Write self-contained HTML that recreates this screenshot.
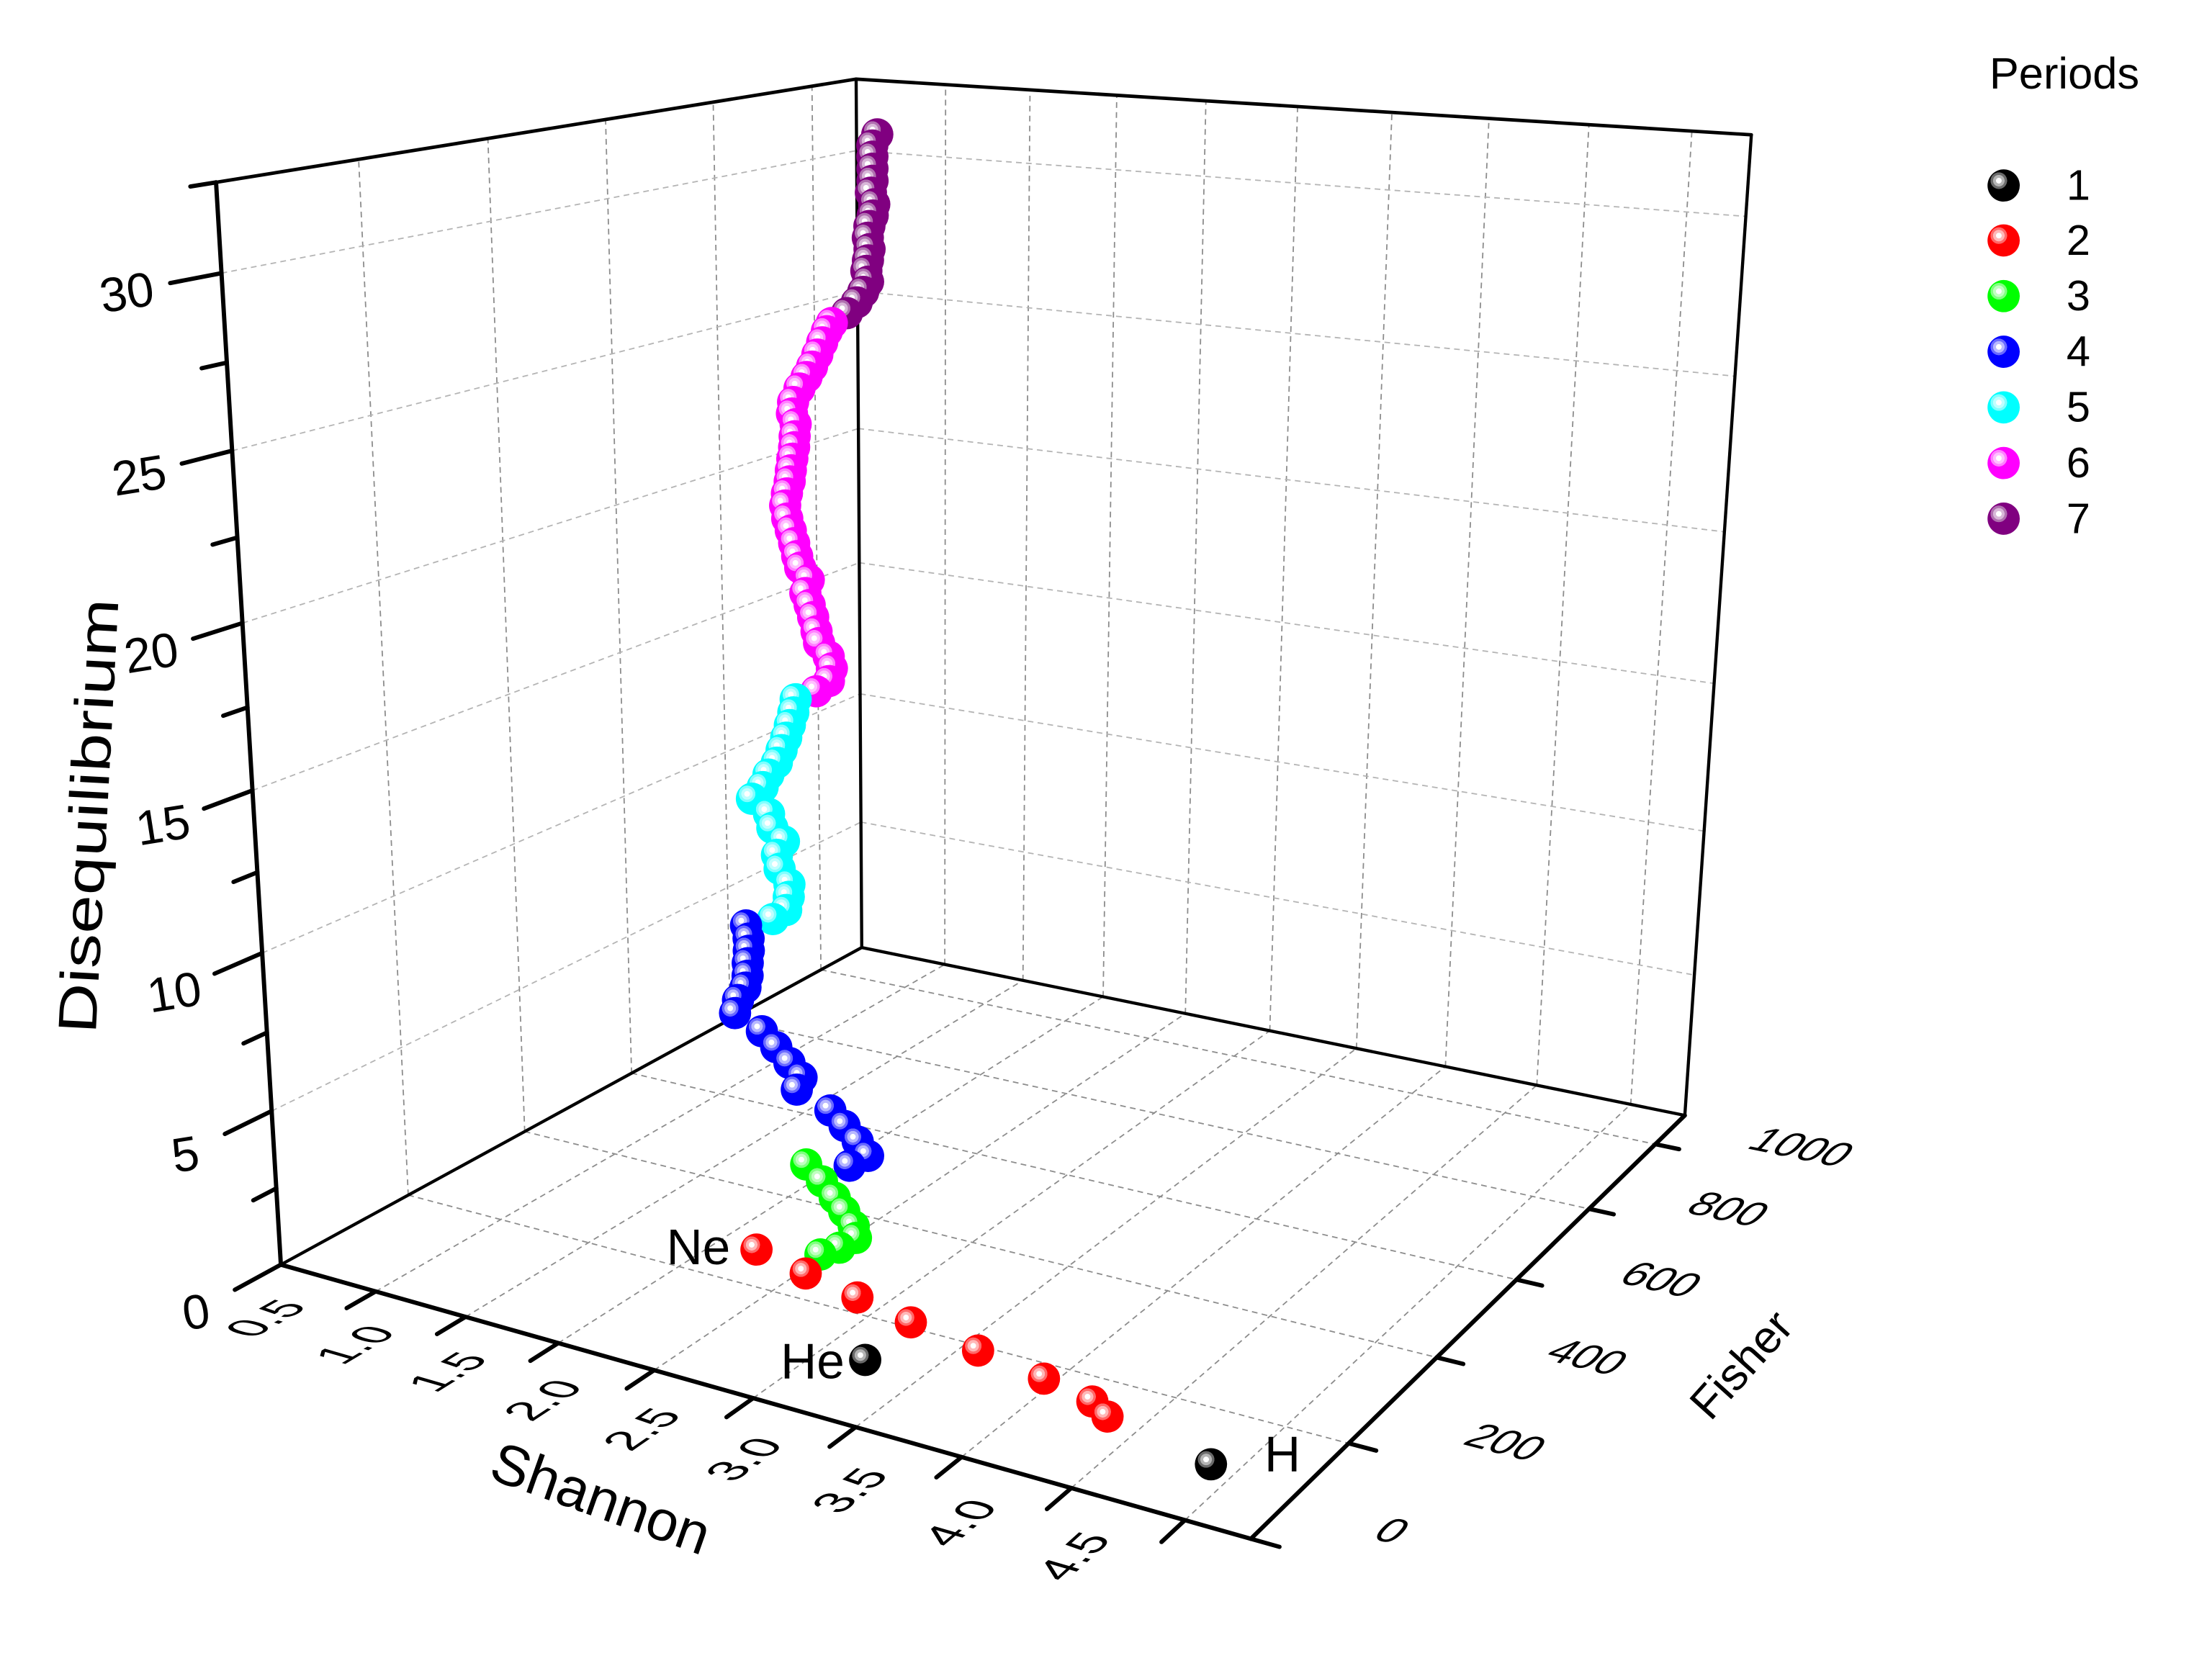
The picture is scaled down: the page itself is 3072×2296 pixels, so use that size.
<!DOCTYPE html>
<html>
<head>
<meta charset="utf-8">
<title>Periods 3D scatter</title>
<style>
  html,body{margin:0;padding:0;background:#fff;}
  svg{display:block;font-family:"Liberation Sans",Arial,sans-serif;}
</style>
</head>
<body>
<svg id="chart" xmlns="http://www.w3.org/2000/svg" width="3072" height="2296" viewBox="0 0 1550 1158.45">
  <defs>
    <radialGradient id="g1" cx="0.35" cy="0.35" r="0.65" fx="0.35" fy="0.35">
      <stop offset="0" stop-color="#ffffff"/><stop offset="0.13" stop-color="#ffffff"/>
      <stop offset="0.14" stop-color="#b4b4b4"/><stop offset="0.27" stop-color="#b4b4b4"/>
      <stop offset="0.28" stop-color="#6a6a6a"/><stop offset="0.39" stop-color="#6a6a6a"/>
      <stop offset="0.40" stop-color="#000000"/><stop offset="1" stop-color="#000000"/>
    </radialGradient>
    <radialGradient id="g2" cx="0.35" cy="0.35" r="0.65" fx="0.35" fy="0.35">
      <stop offset="0" stop-color="#ffffff"/><stop offset="0.13" stop-color="#ffffff"/>
      <stop offset="0.14" stop-color="#ffb8b8"/><stop offset="0.27" stop-color="#ffb8b8"/>
      <stop offset="0.28" stop-color="#ff6a6a"/><stop offset="0.39" stop-color="#ff6a6a"/>
      <stop offset="0.40" stop-color="#ff0000"/><stop offset="1" stop-color="#ff0000"/>
    </radialGradient>
    <radialGradient id="g3" cx="0.35" cy="0.35" r="0.65" fx="0.35" fy="0.35">
      <stop offset="0" stop-color="#ffffff"/><stop offset="0.13" stop-color="#ffffff"/>
      <stop offset="0.14" stop-color="#c0ffc0"/><stop offset="0.27" stop-color="#c0ffc0"/>
      <stop offset="0.28" stop-color="#80ff80"/><stop offset="0.39" stop-color="#80ff80"/>
      <stop offset="0.40" stop-color="#00ff00"/><stop offset="1" stop-color="#00ff00"/>
    </radialGradient>
    <radialGradient id="g4" cx="0.35" cy="0.35" r="0.65" fx="0.35" fy="0.35">
      <stop offset="0" stop-color="#ffffff"/><stop offset="0.13" stop-color="#ffffff"/>
      <stop offset="0.14" stop-color="#b8b8ff"/><stop offset="0.27" stop-color="#b8b8ff"/>
      <stop offset="0.28" stop-color="#6a6aff"/><stop offset="0.39" stop-color="#6a6aff"/>
      <stop offset="0.40" stop-color="#0000ff"/><stop offset="1" stop-color="#0000ff"/>
    </radialGradient>
    <radialGradient id="g5" cx="0.35" cy="0.35" r="0.65" fx="0.35" fy="0.35">
      <stop offset="0" stop-color="#ffffff"/><stop offset="0.13" stop-color="#ffffff"/>
      <stop offset="0.14" stop-color="#c0ffff"/><stop offset="0.27" stop-color="#c0ffff"/>
      <stop offset="0.28" stop-color="#80ffff"/><stop offset="0.39" stop-color="#80ffff"/>
      <stop offset="0.40" stop-color="#00ffff"/><stop offset="1" stop-color="#00ffff"/>
    </radialGradient>
    <radialGradient id="g6" cx="0.35" cy="0.35" r="0.65" fx="0.35" fy="0.35">
      <stop offset="0" stop-color="#ffffff"/><stop offset="0.13" stop-color="#ffffff"/>
      <stop offset="0.14" stop-color="#ffc0ff"/><stop offset="0.27" stop-color="#ffc0ff"/>
      <stop offset="0.28" stop-color="#ff80ff"/><stop offset="0.39" stop-color="#ff80ff"/>
      <stop offset="0.40" stop-color="#ff00ff"/><stop offset="1" stop-color="#ff00ff"/>
    </radialGradient>
    <radialGradient id="g7" cx="0.35" cy="0.35" r="0.65" fx="0.35" fy="0.35">
      <stop offset="0" stop-color="#ffffff"/><stop offset="0.13" stop-color="#ffffff"/>
      <stop offset="0.14" stop-color="#d8b8d8"/><stop offset="0.27" stop-color="#d8b8d8"/>
      <stop offset="0.28" stop-color="#b070b0"/><stop offset="0.39" stop-color="#b070b0"/>
      <stop offset="0.40" stop-color="#800080"/><stop offset="1" stop-color="#800080"/>
    </radialGradient>
  </defs>

  <g id="grid"></g>
  <g id="axes"></g>
  <g id="ticklabels"></g>
  <g id="points"></g>

  <text x="65" y="572" transform="rotate(-87 65 572)" text-anchor="middle" dominant-baseline="middle" font-size="38" textLength="305" lengthAdjust="spacingAndGlyphs">Disequilibrium</text>
  <text x="0" y="0" transform="matrix(0.94,0.34,-0.33,0.94,420,1053)" text-anchor="middle" dominant-baseline="middle" font-size="40">Shannon</text>
  <text x="1222" y="958" transform="rotate(-48 1222 958)" text-anchor="middle" dominant-baseline="middle" font-size="32">Fisher</text>

  <text x="467" y="886" font-size="35">Ne</text>
  <text x="547" y="966" font-size="35">He</text>
  <text x="886" y="1031" font-size="35">H</text>

  <g id="legend">
    <text x="1394" y="62" font-size="31">Periods</text>
    <g><circle cx="1404" cy="130" r="11.3" fill="url(#g1)"/><text x="1448" y="140" font-size="30">1</text></g>
    <g><circle cx="1404" cy="168.5" r="11.3" fill="url(#g2)"/><text x="1448" y="178.5" font-size="30">2</text></g>
    <g><circle cx="1404" cy="207.5" r="11.3" fill="url(#g3)"/><text x="1448" y="217.5" font-size="30">3</text></g>
    <g><circle cx="1404" cy="246.5" r="11.3" fill="url(#g4)"/><text x="1448" y="256.5" font-size="30">4</text></g>
    <g><circle cx="1404" cy="285.5" r="11.3" fill="url(#g5)"/><text x="1448" y="295.5" font-size="30">5</text></g>
    <g><circle cx="1404" cy="324.5" r="11.3" fill="url(#g6)"/><text x="1448" y="334.5" font-size="30">6</text></g>
    <g><circle cx="1404" cy="363.5" r="11.3" fill="url(#g7)"/><text x="1448" y="373.5" font-size="30">7</text></g>
  </g>
</svg>

<script>
// ---- data (Shannon, Fisher, Disequilibrium) per period ----
const shannon1 = [4.384, 2.712];
const fisher1  = [101.5, 119.2];
const diseq1   = [0, 0];

const shannon2 = [3.837, 3.720, 3.447, 3.078, 2.690, 2.359, 2.029, 1.699];
const fisher2  = [134.8, 154.0, 171.6, 190.7, 210.2, 230.8, 251.2, 273.4];
const diseq2   = [0, 0, 0, 0, 0, 0, 0, 0];

const shannon3 = [2.112, 2.213, 2.299, 2.288, 2.239, 2.190, 2.124, 2.042];
const fisher3  = [250, 250, 250, 250, 250, 250, 250, 250];
const diseq3   = [0.77, 1.15, 1.60, 1.96, 2.36, 2.73, 3.16, 3.58];

const shannon4 = [1.842, 1.943, 1.887, 1.816, 1.739, 1.555, 1.582, 1.516, 1.444, 1.365, 1.216, 1.234, 1.277, 1.290, 1.292, 1.299, 1.299, 1.286];
const fisher4  = [400, 400, 400, 400, 400, 400, 400, 400, 400, 400, 400, 400, 400, 400, 400, 400, 400, 400];
const diseq4   = [1.57, 2.05, 2.45, 2.87, 3.28, 3.72, 4.16, 4.56, 4.99, 5.42, 5.83, 6.29, 6.76, 7.17, 7.59, 8.01, 8.41, 8.83];

const shannon5 = [0.389, 0.471, 0.488, 0.493, 0.434, 0.419, 0.463, 0.393, 0.374, 0.270, 0.337, 0.374, 0.426, 0.456, 0.485, 0.508, 0.530, 0.545];
const fisher5  = [750, 750, 750, 750, 750, 750, 750, 750, 750, 750, 750, 750, 750, 750, 750, 750, 750, 750];
const diseq5   = [4.79, 5.22, 5.72, 6.18, 6.68, 7.17, 7.71, 8.12, 8.60, 9.04, 9.53, 10.02, 10.50, 10.98, 11.45, 11.92, 12.39, 12.87];

const shannon6 = [0.234, 0.313, 0.332, 0.313, 0.254, 0.239, 0.219, 0.198, 0.172, 0.194, 0.142, 0.124, 0.106, 0.086, 0.065, 0.053, 0.065, 0.083, 0.091, 0.101, 0.113, 0.117, 0.124, 0.102, 0.110, 0.150, 0.194, 0.228, 0.261, 0.291, 0.320, 0.350];
const fisher6  = [900, 900, 900, 900, 900, 900, 900, 900, 900, 900, 900, 900, 900, 900, 900, 900, 900, 900, 900, 900, 900, 900, 900, 900, 900, 900, 900, 900, 900, 900, 900, 900];
const diseq6   = [11.77, 12.22, 12.70, 13.11, 13.55, 13.96, 14.46, 14.88, 15.29, 15.78, 16.18, 16.58, 17.03, 17.47, 17.88, 18.34, 18.78, 19.22, 19.62, 20.04, 20.45, 20.84, 21.27, 21.63, 22.04, 22.54, 22.97, 23.35, 23.79, 24.23, 24.63, 24.93];

const shannon7 = [0.20, 0.26, 0.30, 0.33, 0.32, 0.33, 0.34, 0.33, 0.34, 0.36, 0.37, 0.35, 0.36, 0.36, 0.36, 0.36, 0.39];
const fisher7  = [985, 985, 985, 985, 985, 985, 985, 985, 985, 985, 985, 985, 985, 985, 985, 985, 985];
const diseq7   = [24.82, 25.23, 25.62, 25.99, 26.36, 26.73, 27.12, 27.51, 27.92, 28.29, 28.68, 29.07, 29.48, 29.89, 30.30, 30.68, 31.07];

const shannonTicks = [0.5, 1.0, 1.5, 2.0, 2.5, 3.0, 3.5, 4.0, 4.5];
const shannonTickLabels = ["0.5", "1.0", "1.5", "2.0", "2.5", "3.0", "3.5", "4.0", "4.5"];
const fisherTicks = [0, 200, 400, 600, 800, 1000];
const fisherTickLabels = ["0", "200", "400", "600", "800", "1000"];
const diseqTicks = [0, 5, 10, 15, 20, 25, 30];
const diseqTickLabels = ["0", "5", "10", "15", "20", "25", "30"];
const diseqMinorTicks = [2.5, 7.5, 12.5, 17.5, 22.5, 27.5, 32.5];

// ---- axis ranges & perspective projection ----
const S_MIN = -0.045, S_MAX = 4.782, F_MIN = 0, F_MAX = 1095, Z_MIN = 0, Z_MAX = 32.5;
function proj(s, f, z) {
  const ts = (s - S_MIN) / (S_MAX - S_MIN), tf = (f - F_MIN) / (F_MAX - F_MIN), tz = (z - Z_MIN) / (Z_MAX - Z_MIN);
  const hx = 231.24 + ts * 645.26 + tf * 660.64 - tz * 69.4;
  const hy = 1041.40 + ts * 37.0 - tf * 60.63 - tz * 904.8;
  const hw = 1.175 - ts * 0.175 + tf * 0.302 - tz * 0.106;
  return [hx / hw, hy / hw];
}
function unit(p, q) { const dx = q[0] - p[0], dy = q[1] - p[1], l = Math.hypot(dx, dy); return [dx / l, dy / l]; }

const NS = "http://www.w3.org/2000/svg";
const gGrid = document.getElementById("grid");
const gAxes = document.getElementById("axes");
const gLab = document.getElementById("ticklabels");
const gPts = document.getElementById("points");

function seg(parent, p, q, stroke, w, dash, name) {
  const el = document.createElementNS(NS, "line");
  el.setAttribute("x1", p[0].toFixed(2)); el.setAttribute("y1", p[1].toFixed(2));
  el.setAttribute("x2", q[0].toFixed(2)); el.setAttribute("y2", q[1].toFixed(2));
  el.setAttribute("stroke", stroke); el.setAttribute("stroke-width", w);
  el.setAttribute("stroke-linecap", "round");
  if (dash) { el.setAttribute("stroke-dasharray", dash); el.setAttribute("stroke-linecap", "butt"); }
  
  
  parent.appendChild(el);
  return el;
}

// ---- grid ----
const wallCol = "#b4b4b4", floorCol = "#8c8c8c";
shannonTicks.forEach(s => {
  seg(gGrid, proj(s, F_MIN, 0), proj(s, F_MAX, 0), floorCol, 0.9, "4 3", "floor-grid-shannon");
  seg(gGrid, proj(s, F_MAX, 0), proj(s, F_MAX, Z_MAX), floorCol, 0.9, "4 3", "back-wall-grid-shannon");
});
fisherTicks.forEach(f => {
  seg(gGrid, proj(S_MIN, f, 0), proj(S_MAX, f, 0), floorCol, 0.9, "4 3", "floor-grid-fisher");
  seg(gGrid, proj(S_MIN, f, 0), proj(S_MIN, f, Z_MAX), floorCol, 0.9, "4 3", "left-wall-grid-fisher");
});
diseqTicks.forEach(z => {
  seg(gGrid, proj(S_MIN, F_MIN, z), proj(S_MIN, F_MAX, z), wallCol, 0.9, "4 3", "left-wall-grid-diseq");
  seg(gGrid, proj(S_MIN, F_MAX, z), proj(S_MAX, F_MAX, z), wallCol, 0.9, "4 3", "back-wall-grid-diseq");
});

// ---- box frame ----
seg(gAxes, proj(S_MIN, F_MIN, 0), proj(S_MIN, F_MAX, 0), "#000", 2.2, null, "left-floor-edge");
seg(gAxes, proj(S_MIN, F_MAX, 0), proj(S_MAX, F_MAX, 0), "#000", 2.2, null, "back-floor-edge");
seg(gAxes, proj(S_MIN, F_MAX, 0), proj(S_MIN, F_MAX, Z_MAX), "#000", 2.2, null, "back-vertical-edge");
seg(gAxes, proj(S_MAX, F_MAX, 0), proj(S_MAX, F_MAX, Z_MAX), "#000", 2.2, null, "right-vertical-edge");
seg(gAxes, proj(S_MIN, F_MIN, Z_MAX), proj(S_MIN, F_MAX, Z_MAX), "#000", 2.4, null, "left-top-edge");
seg(gAxes, proj(S_MIN, F_MAX, Z_MAX), proj(S_MAX, F_MAX, Z_MAX), "#000", 2.4, null, "back-top-edge");
seg(gAxes, proj(S_MIN, F_MIN, 0), proj(S_MIN, F_MIN, Z_MAX), "#000", 3, null, "z-axis-line");
seg(gAxes, proj(S_MIN, F_MIN, 0), proj(S_MAX, F_MIN, 0), "#000", 3, null, "x-axis-line");
seg(gAxes, proj(S_MAX, F_MIN, 0), proj(S_MAX, F_MAX, 0), "#000", 3, null, "y-axis-line");

function addText(str, p, ux, uy, vx, vy, anchor, size, name) {
  const t = document.createElementNS(NS, "text");
  t.setAttribute("x", "0"); t.setAttribute("y", "0"); t.setAttribute("dy", "0.36em");
  t.setAttribute("text-anchor", anchor); t.setAttribute("font-size", size);
  t.setAttribute("transform", "matrix(" + [ux, uy, vx, vy, p[0], p[1]].map(v => v.toFixed(4)).join(",") + ")");
  t.textContent = str;
  
  
  gLab.appendChild(t);
}

// ---- Disequilibrium (z) ticks ----
diseqTicks.forEach((z, i) => {
  seg(gAxes, proj(S_MIN, F_MIN, z), proj(S_MIN, F_MIN - 0.062 * F_MAX, z), "#000", 3, null, "z-major-tick");
  const p = proj(S_MIN, F_MIN - 0.113 * F_MAX, z);
  const a = -9 * Math.PI / 180;
  addText(diseqTickLabels[i], p, Math.cos(a), Math.sin(a), -Math.sin(a), Math.cos(a), "middle", 34, "z-tick-label");
});
diseqMinorTicks.forEach(z => {
  seg(gAxes, proj(S_MIN, F_MIN, z), proj(S_MIN, F_MIN - 0.031 * F_MAX, z), "#000", 3, null, "z-minor-tick");
});

// ---- Shannon (x) ticks ----
shannonTicks.forEach((s, i) => {
  seg(gAxes, proj(s, F_MIN, 0), proj(s, F_MIN - 0.04 * F_MAX, 0), "#000", 3, null, "x-major-tick");
  const p = proj(s - 0.241, F_MIN - 60, 0);
  const u = unit(p, proj(s - 0.241, F_MIN + 100, 0));
  const v = unit(p, proj(s - 0.241 + 0.5, F_MIN - 60, 0));
  addText(shannonTickLabels[i], p, u[0], u[1], v[0], v[1], "end", 33, "x-tick-label");
});

// ---- Fisher (y) ticks ----
fisherTicks.forEach((f, i) => {
  seg(gAxes, proj(S_MAX, f, 0), proj(S_MAX + 0.025 * (S_MAX - S_MIN), f, 0), "#000", 3, null, "y-major-tick");
  const p = proj(S_MAX + 0.391, f + 75.6, 0);
  const u = unit(p, proj(S_MAX + 0.891, f + 75.6, 0));
  const v = unit(p, proj(S_MAX + 0.391, f + 75.6 - 100, 0));
  addText(fisherTickLabels[i], p, u[0], u[1], v[0], v[1], "start", 30, "y-tick-label");
});

// ---- data points ----
const series = [
  [shannon1, fisher1, diseq1], [shannon2, fisher2, diseq2], [shannon3, fisher3, diseq3],
  [shannon4, fisher4, diseq4], [shannon5, fisher5, diseq5], [shannon6, fisher6, diseq6],
  [shannon7, fisher7, diseq7]
];
const pts = [];
series.forEach((ser, k) => {
  ser[0].forEach((s, j) => {
    const p = proj(s, ser[1][j], ser[2][j]);
    pts.push({ x: p[0], y: p[1], period: k + 1 });
  });
});
pts.sort((a, b) => a.y - b.y);
pts.forEach(pt => {
  const c = document.createElementNS(NS, "circle");
  c.setAttribute("cx", pt.x.toFixed(2));
  c.setAttribute("cy", pt.y.toFixed(2));
  c.setAttribute("r", "11.3");
  c.setAttribute("fill", "url(#g" + pt.period + ")");
  
  
  gPts.appendChild(c);
});
</script>
</body>
</html>
